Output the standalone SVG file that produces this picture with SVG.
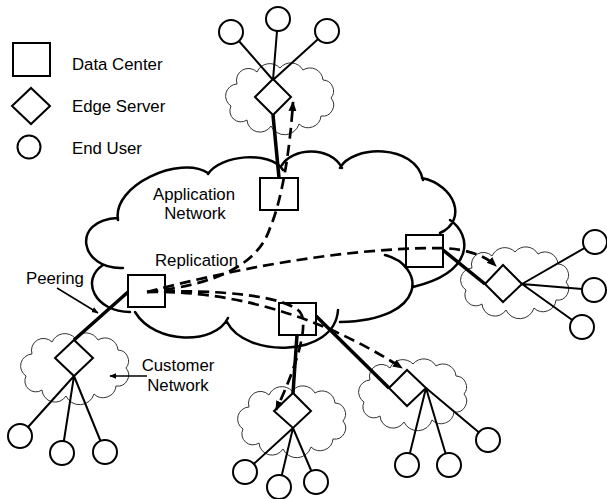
<svg xmlns="http://www.w3.org/2000/svg" width="607" height="499" viewBox="0 0 607 499">
<style>
.t{font-family:"Liberation Sans",Arial,sans-serif;font-size:16.8px;fill:#000}
.main{fill:none;stroke:#000;stroke-width:2.5;stroke-linecap:round}
.sc{fill:none;stroke:#333;stroke-width:1}
.dc{fill:#fff;stroke:#000;stroke-width:2}
.es{fill:#fff;stroke:#000;stroke-width:2;stroke-linejoin:miter}
.eu{fill:#fff;stroke:#000;stroke-width:2}
.link{stroke:#000;stroke-width:2;fill:none}
.trunk{stroke:#000;stroke-width:3.5;fill:none}
.rep{stroke:#000;stroke-width:2.7;fill:none;stroke-dasharray:11 6}
.lbl{stroke:#000;stroke-width:1.5;fill:none}
</style>
<defs>
<path id="cloud" d="M12,22 A12,12 0 0 1 32,10 A14,14 0 0 1 55,6 A14,14 0 0 1 78,8 A13,13 0 0 1 98,18 A11,11 0 0 1 106,36 A11,11 0 0 1 96,54 A13,13 0 0 1 74,62 A15,15 0 0 1 46,64 A13,13 0 0 1 22,58 A11,11 0 0 1 6,44 A12,12 0 0 1 12,22 Z"/>
<marker id="ah" markerUnits="userSpaceOnUse" markerWidth="10" markerHeight="10" viewBox="0 0 10 10" refX="9" refY="5" orient="auto"><path d="M0,1 L10,5 L0,9 z" fill="#000"/></marker>
<marker id="ahs" markerUnits="userSpaceOnUse" markerWidth="7" markerHeight="7" viewBox="0 0 10 10" refX="9" refY="5" orient="auto"><path d="M0,1 L10,5 L0,9 z" fill="#000"/></marker>
</defs>

<g id="legend">
<rect class="dc" x="13" y="43" width="37" height="33"/>
<text class="t" x="72" y="70">Data Center</text>
<path class="es" d="M12,106 L31,88 L50,106 L31,124 Z"/>
<text class="t" x="72" y="112">Edge Server</text>
<circle class="eu" cx="29" cy="147" r="11.5"/>
<text class="t" x="72" y="154">End User</text>
</g>

<g id="customer-clouds">
<use href="#cloud" class="sc" transform="translate(225,62)"/>
<use href="#cloud" class="sc" transform="translate(460,246)"/>
<use href="#cloud" class="sc" transform="translate(20,332)"/>
<use href="#cloud" class="sc" transform="translate(237,385)"/>
<use href="#cloud" class="sc" transform="translate(358,358)"/>
</g>

<g id="application-network">
<path class="main" d="M123,268 C80,270 70,220 118,218 M118,220 C112,185 180,155 208,173 M208,174 C220,155 270,150 283,170 M282,165 C292,148 330,145 342,168 M340,168 C352,145 415,143 423,180 M422,178 C455,185 468,220 440,233 M450,220 C472,235 475,272 413,287 M385,255 C425,265 430,320 340,322 M338,310 C335,358 245,358 227,322 M228,318 C215,345 155,345 135,312 M130,312 C95,312 80,280 103,265"/>
<text class="t" x="194" y="200" text-anchor="middle">Application</text>
<text class="t" x="195" y="219" text-anchor="middle">Network</text>
</g>

<g id="connectors">
<path class="link" d="M273,80 L231,32 M273,80 L278,19 M273,80 L327,31"/>
<path class="link" d="M74,376 L20,436 M74,376 L62,453 M74,376 L105,452"/>
<path class="link" d="M293,428 L245,472 M293,428 L279,487 M293,428 L316,482"/>
<path class="link" d="M426,388 L407,465 M426,388 L449,465 M426,388 L488,440"/>
<path class="link" d="M522,284 L595,242 M522,284 L594,290 M522,284 L582,327"/>
<path class="trunk" d="M273,115 L279,178"/>
<path class="trunk" d="M128,292 L74,340"/>
<path class="trunk" d="M297,335 L293,393"/>
<path class="trunk" d="M316,316 L389,388"/>
<path class="trunk" d="M443,250 L485,284"/>
<path class="lbl" d="M57,288 L98,313" marker-end="url(#ahs)"/>
<path class="lbl" d="M147,376 L110,376" marker-end="url(#ahs)"/>
</g>

<g id="edge-top"><path class="es" d="M255,97 L273,79 L291,97 L273,115 Z"/>
<circle class="eu" cx="231" cy="32" r="12"/><circle class="eu" cx="278" cy="19" r="12"/><circle class="eu" cx="327" cy="31" r="12"/></g>
<g id="edge-customer"><path class="es" d="M55,358 L74,340 L93,358 L74,376 Z"/>
<circle class="eu" cx="20" cy="436" r="12"/><circle class="eu" cx="62" cy="453" r="12"/><circle class="eu" cx="105" cy="452" r="12"/></g>
<g id="edge-bottom"><path class="es" d="M274,411 L293,393 L311,411 L293,428 Z"/>
<circle class="eu" cx="245" cy="472" r="12"/><circle class="eu" cx="279" cy="487" r="12"/><circle class="eu" cx="316" cy="482" r="12"/></g>
<g id="edge-southeast"><path class="es" d="M389,388 L407,370 L426,388 L407,406 Z"/>
<circle class="eu" cx="407" cy="465" r="12"/><circle class="eu" cx="449" cy="465" r="12"/><circle class="eu" cx="488" cy="440" r="12"/></g>
<g id="edge-east"><path class="es" d="M485,284 L503,265 L522,284 L503,302 Z"/>
<circle class="eu" cx="595" cy="242" r="12"/><circle class="eu" cx="594" cy="290" r="12"/><circle class="eu" cx="582" cy="327" r="12"/></g>

<g id="dc-top"><rect class="dc" x="260" y="178" width="38" height="32"/></g>
<g id="dc-peering"><rect class="dc" x="128" y="275" width="37" height="32"/></g>
<g id="dc-east"><rect class="dc" x="406" y="235" width="37" height="32"/></g>
<g id="dc-bottom"><rect class="dc" x="279" y="303" width="37" height="32"/></g>

<g id="replication">
<path class="rep" d="M147,292 C215,285 258,265 270,228 C282,200 290,150 293,102" marker-end="url(#ah)"/>
<path class="rep" d="M147,292 C230,270 340,248 440,248 Q478,249 496,266" marker-end="url(#ah)"/>
<path class="rep" d="M147,292 C230,290 320,315 402,368" marker-end="url(#ah)"/>
<path class="rep" d="M147,292 C220,289 285,296 300,312 C310,325 295,370 276,410" marker-end="url(#ah)"/>
</g>

<g id="labels">
<text class="t" x="155" y="266">Replication</text>
<text class="t" x="26" y="284">Peering</text>
<text class="t" x="178" y="371" text-anchor="middle">Customer</text>
<text class="t" x="178" y="391" text-anchor="middle">Network</text>
</g>
</svg>
